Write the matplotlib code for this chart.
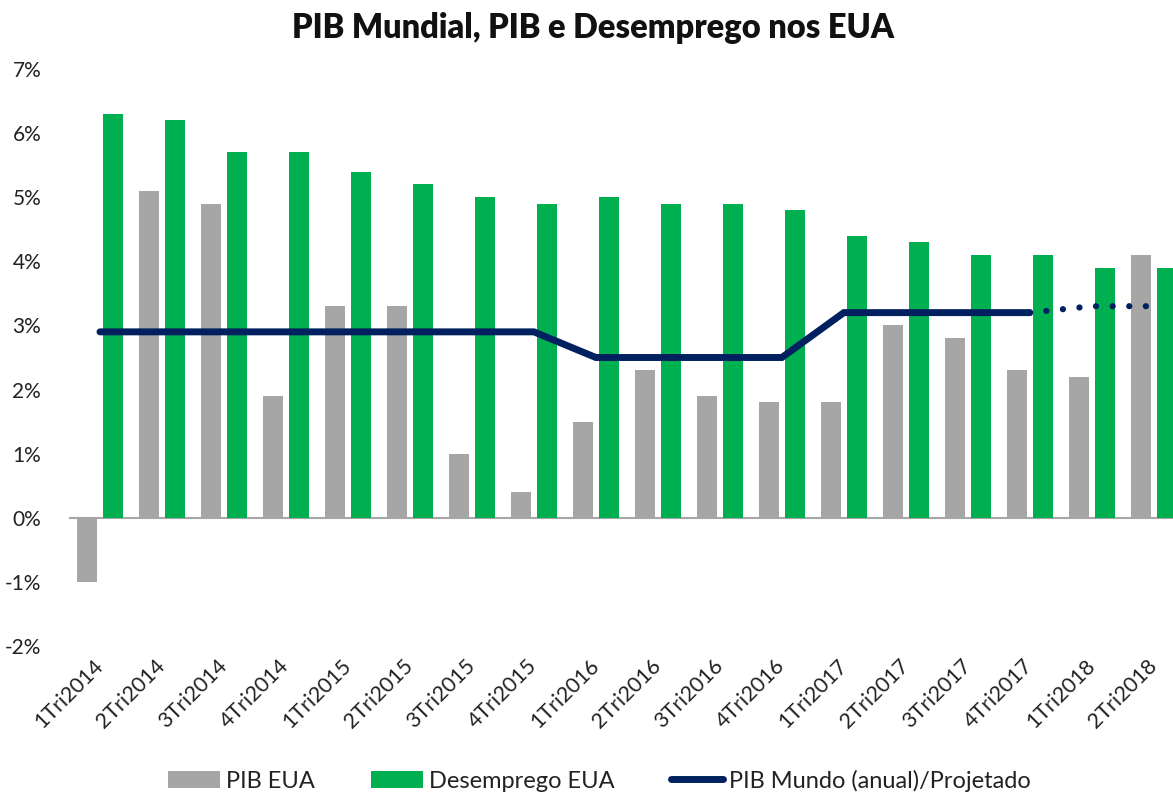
import numpy as np
import matplotlib
matplotlib.use("Agg")
import matplotlib.pyplot as plt

plt.rcParams['font.family'] = ['Lato', 'DejaVu Sans']

# dados
trimestres = ["1Tri2014", "2Tri2014", "3Tri2014", "4Tri2014",
              "1Tri2015", "2Tri2015", "3Tri2015", "4Tri2015",
              "1Tri2016", "2Tri2016", "3Tri2016", "4Tri2016",
              "1Tri2017", "2Tri2017", "3Tri2017", "4Tri2017",
              "1Tri2018", "2Tri2018"]
pib_eua = [-1.0, 5.1, 4.9, 1.9, 3.3, 3.3, 1.0, 0.4, 1.5, 2.3, 1.9, 1.8,
           1.8, 3.0, 2.8, 2.3, 2.2, 4.1]
desemprego_eua = [6.3, 6.2, 5.7, 5.7, 5.4, 5.2, 5.0, 4.9, 5.0, 4.9, 4.9, 4.8,
                  4.4, 4.3, 4.1, 4.1, 3.9, 3.9]
pib_mundo = [2.9, 2.9, 2.9, 2.9, 2.9, 2.9, 2.9, 2.9, 2.5, 2.5, 2.5, 2.5,
             3.2, 3.2, 3.2, 3.2, np.nan, np.nan]
pib_projetado = [np.nan] * 15 + [3.2, 3.3, 3.3]

cinza = "#A6A6A6"
verde = "#00B050"
azul = "#002060"

fig = plt.figure(figsize=(11.73, 7.94), dpi=100)
ax = fig.add_axes([0.0588, 0.1864, 0.9412, 0.7267])

x = np.arange(len(trimestres))
larg = 0.32
b1 = ax.bar(x - 0.21, pib_eua, larg, color=cinza, label="PIB EUA", zorder=2)
b2 = ax.bar(x + 0.21, desemprego_eua, larg, color=verde, label="Desemprego EUA", zorder=2)
l1, = ax.plot(x, pib_mundo, color=azul, lw=5, solid_capstyle='round',
              solid_joinstyle='miter', label="PIB Mundo (anual)/Projetado", zorder=3)
ax.plot(x, pib_projetado, color=azul, lw=4.5, linestyle=(0, (0.01, 2.65)),
        dash_capstyle='round', zorder=3)

ax.axhline(0, color=cinza, lw=1.5, zorder=1)

ax.set_ylim(-2, 7)
ax.set_xlim(-0.5, 17.31)
ax.set_yticks(range(-2, 8))
ax.set_yticklabels(["{}%".format(v) for v in range(-2, 8)])
ax.set_xticks(x)
ax.set_xticklabels(trimestres, rotation=45, ha='right', va='center',
                   rotation_mode='anchor')
ax.tick_params(axis='y', length=0, pad=20, labelsize=15, colors='#222222')
ax.tick_params(axis='x', length=0, pad=12, labelsize=15.5, colors='#222222')
for s in ax.spines.values():
    s.set_visible(False)

fig.text(0.506, 0.965, "PIB Mundial, PIB e Desemprego nos EUA", ha='center',
         va='center', fontsize=23.5, fontweight='heavy', color='#111111')

fig.legend([b1, b2, l1], ["PIB EUA", "Desemprego EUA", "PIB Mundo (anual)/Projetado"],
           loc='lower center', bbox_to_anchor=(0.511, -0.024), ncol=3,
           frameon=False, fontsize=17, handlelength=2.2, handleheight=0.75,
           handletextpad=0.25, columnspacing=2.4, labelcolor='#222222')

fig.savefig("out.png", dpi=100)
